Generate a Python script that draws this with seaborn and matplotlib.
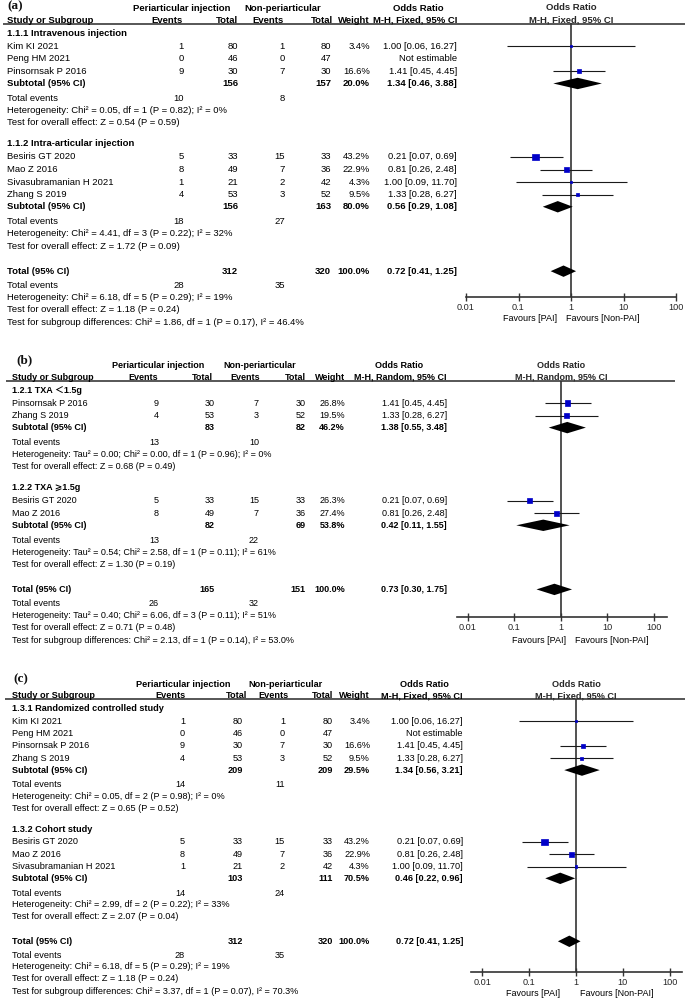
import numpy as np
import pandas as pd
import matplotlib
matplotlib.use("Agg")
import matplotlib.pyplot as plt
from matplotlib.ticker import NullLocator
import seaborn as sns

# ---------------- panel (a): subgroups by TXA route ----------------
a_groups = ["1.1.1 Intravenous injection", "1.1.2 Intra-articular injection"]
a_study = ["Kim KI 2021", "Peng HM 2021", "Pinsornsak P 2016",
           "Besiris GT 2020", "Mao Z 2016", "Sivasubramanian H 2021", "Zhang S 2019"]
a_grp = [0, 0, 0, 1, 1, 1, 1]
a_ev1 = [1, 0, 9, 5, 8, 1, 4]
a_n1 = [80, 46, 30, 33, 49, 21, 53]
a_ev2 = [1, 0, 7, 15, 7, 2, 3]
a_n2 = [80, 47, 30, 33, 36, 42, 52]
a_wt = [3.4, None, 16.6, 43.2, 22.9, 4.3, 9.5]
a_or = [1.00, None, 1.41, 0.21, 0.81, 1.00, 1.33]
a_lo = [0.06, None, 0.45, 0.07, 0.26, 0.09, 0.28]
a_hi = [16.27, None, 4.45, 0.69, 2.48, 11.70, 6.27]
a_sub_n1 = [156, 156]
a_sub_n2 = [157, 163]
a_sub_wt = [20.0, 80.0]
a_sub_or = [1.34, 0.56]
a_sub_lo = [0.46, 0.29]
a_sub_hi = [3.88, 1.08]
a_sub_ev1 = [10, 18]
a_sub_ev2 = [8, 27]
a_sub_het = ["Heterogeneity: Chi² = 0.05, df = 1 (P = 0.82); I² = 0%",
             "Heterogeneity: Chi² = 4.41, df = 3 (P = 0.22); I² = 32%"]
a_sub_z = ["Test for overall effect: Z = 0.54 (P = 0.59)",
           "Test for overall effect: Z = 1.72 (P = 0.09)"]
a_tot = [312, 320, 100.0, 0.72, 0.41, 1.25]  # n1, n2, weight, OR, lo, hi
a_tot_ev = [28, 35]
a_tot_notes = ["Heterogeneity: Chi² = 6.18, df = 5 (P = 0.29); I² = 19%",
               "Test for overall effect: Z = 1.18 (P = 0.24)",
               "Test for subgroup differences: Chi² = 1.86, df = 1 (P = 0.17), I² = 46.4%"]

# ---------------- panel (b): subgroups by TXA dose ----------------
b_groups = ["1.2.1 TXA ＜1.5g", "1.2.2 TXA ⩾1.5g"]
b_study = ["Pinsornsak P 2016", "Zhang S 2019", "Besiris GT 2020", "Mao Z 2016"]
b_grp = [0, 0, 1, 1]
b_ev1 = [9, 4, 5, 8]
b_n1 = [30, 53, 33, 49]
b_ev2 = [7, 3, 15, 7]
b_n2 = [30, 52, 33, 36]
b_wt = [26.8, 19.5, 26.3, 27.4]
b_or = [1.41, 1.33, 0.21, 0.81]
b_lo = [0.45, 0.28, 0.07, 0.26]
b_hi = [4.45, 6.27, 0.69, 2.48]
b_sub_n1 = [83, 82]
b_sub_n2 = [82, 69]
b_sub_wt = [46.2, 53.8]
b_sub_or = [1.38, 0.42]
b_sub_lo = [0.55, 0.11]
b_sub_hi = [3.48, 1.55]
b_sub_ev1 = [13, 13]
b_sub_ev2 = [10, 22]
b_sub_het = ["Heterogeneity: Tau² = 0.00; Chi² = 0.00, df = 1 (P = 0.96); I² = 0%",
             "Heterogeneity: Tau² = 0.54; Chi² = 2.58, df = 1 (P = 0.11); I² = 61%"]
b_sub_z = ["Test for overall effect: Z = 0.68 (P = 0.49)",
           "Test for overall effect: Z = 1.30 (P = 0.19)"]
b_tot = [165, 151, 100.0, 0.73, 0.30, 1.75]
b_tot_ev = [26, 32]
b_tot_notes = ["Heterogeneity: Tau² = 0.40; Chi² = 6.06, df = 3 (P = 0.11); I² = 51%",
               "Test for overall effect: Z = 0.71 (P = 0.48)",
               "Test for subgroup differences: Chi² = 2.13, df = 1 (P = 0.14), I² = 53.0%"]

# ---------------- panel (c): subgroups by study design ----------------
c_groups = ["1.3.1 Randomized controlled study", "1.3.2 Cohort study"]
c_study = ["Kim KI 2021", "Peng HM 2021", "Pinsornsak P 2016", "Zhang S 2019",
           "Besiris GT 2020", "Mao Z 2016", "Sivasubramanian H 2021"]
c_grp = [0, 0, 0, 0, 1, 1, 1]
c_ev1 = [1, 0, 9, 4, 5, 8, 1]
c_n1 = [80, 46, 30, 53, 33, 49, 21]
c_ev2 = [1, 0, 7, 3, 15, 7, 2]
c_n2 = [80, 47, 30, 52, 33, 36, 42]
c_wt = [3.4, None, 16.6, 9.5, 43.2, 22.9, 4.3]
c_or = [1.00, None, 1.41, 1.33, 0.21, 0.81, 1.00]
c_lo = [0.06, None, 0.45, 0.28, 0.07, 0.26, 0.09]
c_hi = [16.27, None, 4.45, 6.27, 0.69, 2.48, 11.70]
c_sub_n1 = [209, 103]
c_sub_n2 = [209, 111]
c_sub_wt = [29.5, 70.5]
c_sub_or = [1.34, 0.46]
c_sub_lo = [0.56, 0.22]
c_sub_hi = [3.21, 0.96]
c_sub_ev1 = [14, 14]
c_sub_ev2 = [11, 24]
c_sub_het = ["Heterogeneity: Chi² = 0.05, df = 2 (P = 0.98); I² = 0%",
             "Heterogeneity: Chi² = 2.99, df = 2 (P = 0.22); I² = 33%"]
c_sub_z = ["Test for overall effect: Z = 0.65 (P = 0.52)",
           "Test for overall effect: Z = 2.07 (P = 0.04)"]
c_tot = [312, 320, 100.0, 0.72, 0.41, 1.25]
c_tot_ev = [28, 35]
c_tot_notes = ["Heterogeneity: Chi² = 6.18, df = 5 (P = 0.29); I² = 19%",
               "Test for overall effect: Z = 1.18 (P = 0.24)",
               "Test for subgroup differences: Chi² = 3.37, df = 1 (P = 0.07), I² = 70.3%"]

tick_vals = [0.01, 0.1, 1, 10, 100]
tick_labels = ["0.01", "0.1", "1", "10", "100"]


def pack(label, method, groups, study, grp, ev1, n1, ev2, n2, wt, orr, lo, hi,
         sub_n1, sub_n2, sub_wt, sub_or, sub_lo, sub_hi, sub_ev1, sub_ev2,
         sub_het, sub_z, tot, tot_ev, tot_notes):
    return dict(label=label, method=method, groups=groups, study=study, grp=grp,
                ev1=ev1, n1=n1, ev2=ev2, n2=n2, wt=wt, orr=orr, lo=lo, hi=hi,
                sub_n1=sub_n1, sub_n2=sub_n2, sub_wt=sub_wt, sub_or=sub_or,
                sub_lo=sub_lo, sub_hi=sub_hi, sub_ev1=sub_ev1, sub_ev2=sub_ev2,
                sub_het=sub_het, sub_z=sub_z, tot=tot, tot_ev=tot_ev, tot_notes=tot_notes)


panels = [
    pack("(a)", "M-H, Fixed, 95% CI", a_groups, a_study, a_grp, a_ev1, a_n1, a_ev2, a_n2,
         a_wt, a_or, a_lo, a_hi, a_sub_n1, a_sub_n2, a_sub_wt, a_sub_or, a_sub_lo, a_sub_hi,
         a_sub_ev1, a_sub_ev2, a_sub_het, a_sub_z, a_tot, a_tot_ev, a_tot_notes),
    pack("(b)", "M-H, Random, 95% CI", b_groups, b_study, b_grp, b_ev1, b_n1, b_ev2, b_n2,
         b_wt, b_or, b_lo, b_hi, b_sub_n1, b_sub_n2, b_sub_wt, b_sub_or, b_sub_lo, b_sub_hi,
         b_sub_ev1, b_sub_ev2, b_sub_het, b_sub_z, b_tot, b_tot_ev, b_tot_notes),
    pack("(c)", "M-H, Fixed, 95% CI", c_groups, c_study, c_grp, c_ev1, c_n1, c_ev2, c_n2,
         c_wt, c_or, c_lo, c_hi, c_sub_n1, c_sub_n2, c_sub_wt, c_sub_or, c_sub_lo, c_sub_hi,
         c_sub_ev1, c_sub_ev2, c_sub_het, c_sub_z, c_tot, c_tot_ev, c_tot_notes),
]

# layout in pixels (figure is 685 x 1005)
W, H = 685, 1005
layouts = [
    dict(top=8, bottom=322, line_y=23.5, line_x=(3, 685), axis_y=297, fx=(466, 676),
         xlim=(0.01, 100), fs=6.8, lab_x=7, lab_y=0.5,
         cols=dict(study=7, ev1=184, n1=238, ev2=285, n2=331, wt=370, ci=457),
         head=dict(pai=182, non=283, orat=418, ev1=167, n1=238, ev2=268, n2=333, wt=370, ci=457),
         fav=(557, 566), fav_y=318),
    dict(top=365, bottom=640, line_y=381, line_x=(6, 675), axis_y=617, fx=(457, 667),
         xlim=(0.0058, 195), fs=6.5, lab_x=16, lab_y=354,
         cols=dict(study=12, ev1=159, n1=215, ev2=259, n2=306, wt=345, ci=447),
         head=dict(pai=158, non=260, orat=399, ev1=143, n1=213, ev2=245, n2=306, wt=345, ci=447),
         fav=(566, 575), fav_y=640),
    dict(top=684, bottom=991, line_y=699, line_x=(5, 685), axis_y=972, fx=(471, 682),
         xlim=(0.0057, 184), fs=6.55, lab_x=13, lab_y=673,
         cols=dict(study=12, ev1=185, n1=243, ev2=285, n2=333, wt=370, ci=463),
         head=dict(pai=183, non=286, orat=424, ev1=170, n1=247, ev2=273, n2=333, wt=370, ci=463),
         fav=(560, 580), fav_y=993),
]


def row_layout(counts):
    u = 0.0
    rows = [("h1", None, u)]
    u += 12
    rows.append(("h2", None, u))
    idx = 0
    for g, n in enumerate(counts):
        u += 13 if g == 0 else 21
        rows.append(("group", g, u))
        for i in range(n):
            u += 13 if i == 0 else 12.5
            rows.append(("study", idx, u))
            idx += 1
        u += 12
        rows.append(("subtotal", g, u))
        u += 15
        rows.append(("events", g, u))
        u += 12
        rows.append(("het", g, u))
        u += 12
        rows.append(("z", g, u))
    u += 25
    rows.append(("total", None, u))
    u += 14
    rows.append(("tevents", None, u))
    u += 12
    rows.append(("thet", None, u))
    u += 12
    rows.append(("tz", None, u))
    u += 12.5
    rows.append(("tsub", None, u))
    return rows


def ci_text(o, lo, hi):
    return f"{o:.2f} [{lo:.2f}, {hi:.2f}]"


sns.set_theme(style="white")
plt.rcParams["font.family"] = ["Liberation Sans", "DejaVu Sans", "Noto Sans CJK SC"]

fig = plt.figure(figsize=(W / 100, H / 100), dpi=100)
tab = fig.add_axes([0, 0, 1, 1])
tab.set_xlim(0, W)
tab.set_ylim(H, 0)
tab.axis("off")


def diamond(ax, o, lo, hi, y, h=5.7):
    ax.fill([lo, o, hi, o], [y, y - h, y, y + h], color="black", lw=0, zorder=3)


for P, L in zip(panels, layouts):
    fs = L["fs"]
    C, Hd = L["cols"], L["head"]
    counts = [P["grp"].count(g) for g in range(len(P["groups"]))]
    rows = row_layout(counts)
    k = (L["bottom"] - L["top"]) / rows[-1][2]
    Y = {(kind, key): L["top"] + u * k for kind, key, u in rows}

    def t(x, y, s, ha="left", bold=False, size=fs):
        tab.text(x, y, s, ha=ha, va="center", fontsize=size,
                 fontweight="bold" if bold else "normal", color="black")

    # header
    y1, y2 = Y[("h1", None)], Y[("h2", None)]
    tab.text(L["lab_x"], L["lab_y"], P["label"], ha="left", va="top", fontsize=9.5,
             fontweight="bold", family="Liberation Serif", color="#111111")
    t(Hd["pai"], y1, "Periarticular injection", ha="center", bold=True)
    t(Hd["non"], y1, "Non-periarticular", ha="center", bold=True)
    t(Hd["orat"], y1, "Odds Ratio", ha="center", bold=True)
    t(C["study"], y2, "Study or Subgroup", bold=True)
    t(Hd["ev1"], y2, "Events", ha="center", bold=True)
    t(Hd["n1"], y2, "Total", ha="right", bold=True)
    t(Hd["ev2"], y2, "Events", ha="center", bold=True)
    t(Hd["n2"], y2, "Total", ha="right", bold=True)
    t(Hd["wt"], y2, "Weight", ha="right", bold=True)
    t(Hd["ci"], y2, P["method"], ha="right", bold=True)
    tab.hlines(L["line_y"], L["line_x"][0], L["line_x"][1], color="#3a3a3a", lw=1.2)

    # table body
    for g, name in enumerate(P["groups"]):
        t(C["study"], Y[("group", g)], name, bold=True)
        yg = Y[("subtotal", g)]
        t(C["study"], yg, "Subtotal (95% CI)", bold=True)
        t(C["n1"], yg, str(P["sub_n1"][g]), ha="right", bold=True)
        t(C["n2"], yg, str(P["sub_n2"][g]), ha="right", bold=True)
        t(C["wt"], yg, f"{P['sub_wt'][g]:.1f}%", ha="right", bold=True)
        t(C["ci"], yg, ci_text(P["sub_or"][g], P["sub_lo"][g], P["sub_hi"][g]), ha="right", bold=True)
        ye = Y[("events", g)]
        t(C["study"], ye, "Total events")
        t(C["ev1"], ye, str(P["sub_ev1"][g]), ha="right")
        t(C["ev2"], ye, str(P["sub_ev2"][g]), ha="right")
        t(C["study"], Y[("het", g)], P["sub_het"][g])
        t(C["study"], Y[("z", g)], P["sub_z"][g])

    for i, name in enumerate(P["study"]):
        ys = Y[("study", i)]
        t(C["study"], ys, name)
        t(C["ev1"], ys, str(P["ev1"][i]), ha="right")
        t(C["n1"], ys, str(P["n1"][i]), ha="right")
        t(C["ev2"], ys, str(P["ev2"][i]), ha="right")
        t(C["n2"], ys, str(P["n2"][i]), ha="right")
        if P["orr"][i] is None:
            t(C["ci"], ys, "Not estimable", ha="right")
        else:
            t(C["wt"], ys, f"{P['wt'][i]:.1f}%", ha="right")
            t(C["ci"], ys, ci_text(P["orr"][i], P["lo"][i], P["hi"][i]), ha="right")

    tot = P["tot"]
    yt = Y[("total", None)]
    t(C["study"], yt, "Total (95% CI)", bold=True)
    t(C["n1"], yt, str(tot[0]), ha="right", bold=True)
    t(C["n2"], yt, str(tot[1]), ha="right", bold=True)
    t(C["wt"], yt, f"{tot[2]:.1f}%", ha="right", bold=True)
    t(C["ci"], yt, ci_text(tot[3], tot[4], tot[5]), ha="right", bold=True)
    ye = Y[("tevents", None)]
    t(C["study"], ye, "Total events")
    t(C["ev1"], ye, str(P["tot_ev"][0]), ha="right")
    t(C["ev2"], ye, str(P["tot_ev"][1]), ha="right")
    t(C["study"], Y[("thet", None)], P["tot_notes"][0])
    t(C["study"], Y[("tz", None)], P["tot_notes"][1])
    t(C["study"], Y[("tsub", None)], P["tot_notes"][2])

    # forest plot
    fx0, fx1 = L["fx"]
    ax = fig.add_axes([fx0 / W, 1 - L["axis_y"] / H, (fx1 - fx0) / W,
                       (L["axis_y"] - L["line_y"]) / H])
    ax.set_facecolor("none")
    ax.set_xscale("log")
    df = pd.DataFrame({"or": P["orr"], "lo": P["lo"], "hi": P["hi"], "wt": P["wt"],
                       "y": [Y[("study", i)] for i in range(len(P["study"]))]}).dropna()
    ax.hlines(df["y"], df["lo"], df["hi"], color="#1a1a1a", lw=0.8, zorder=2)
    sns.scatterplot(data=df, x="or", y="y", size="wt", sizes=(0, 52), size_norm=(0, 100),
                    marker="s", color="#0000c8", edgecolor="#0000c8", linewidth=0.5,
                    legend=False, ax=ax, zorder=4)
    for g in range(len(P["groups"])):
        diamond(ax, P["sub_or"][g], P["sub_lo"][g], P["sub_hi"][g], Y[("subtotal", g)])
    diamond(ax, tot[3], tot[4], tot[5], yt)
    ax.axvline(1, color="#333333", lw=1.2, zorder=1)
    ax.set_xlim(*L["xlim"])
    ax.set_ylim(L["axis_y"], L["line_y"])
    ax.set_xticks(tick_vals)
    ax.set_xticklabels(tick_labels)
    ax.xaxis.set_minor_locator(NullLocator())
    ax.set_yticks([])
    ax.set_xlabel("")
    ax.set_ylabel("")
    for side in ["top", "left", "right"]:
        ax.spines[side].set_visible(False)
    ax.spines["bottom"].set_color("#333333")
    ax.spines["bottom"].set_linewidth(1.2)
    ax.tick_params(axis="x", direction="inout", length=6, width=1.0, color="#333333",
                   labelsize=6.6, pad=1.5, bottom=True)
    ax.text(1, y1, "Odds Ratio", ha="center", va="center", fontsize=fs, fontweight="bold")
    ax.text(1, y2, P["method"], ha="center", va="center", fontsize=fs, fontweight="bold")
    t(L["fav"][0], L["fav_y"], "Favours [PAI]", ha="right", size=6.5)
    t(L["fav"][1], L["fav_y"], "Favours [Non-PAI]", size=6.5)

fig.savefig("out.png", dpi=100, facecolor="white")
